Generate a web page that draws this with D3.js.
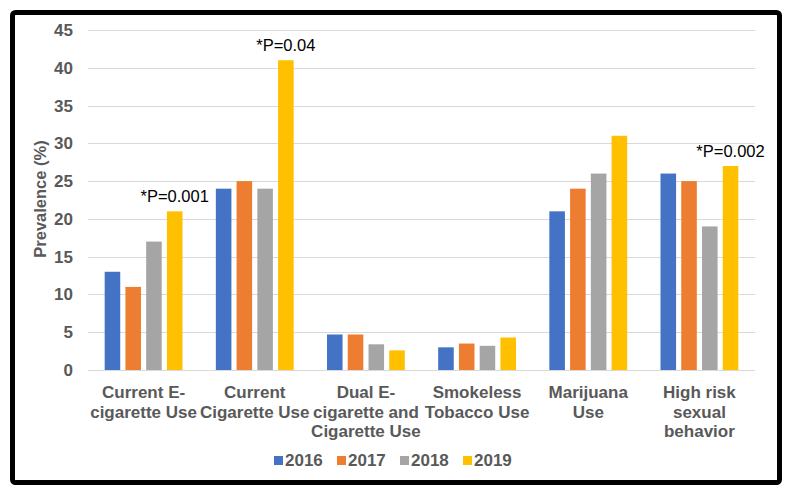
<!DOCTYPE html>
<html>
<head>
<meta charset="utf-8">
<script src="https://cdn.jsdelivr.net/npm/d3@7"></script>
<style>
  body { margin: 0; background: #fff; }
  svg text { font-family: "Liberation Sans", Arial, sans-serif; }
</style>
</head>
<body>
<svg id="chart" width="793" height="496"></svg>
<script>
var categories = [
  "Current E-|cigarette Use",
  "Current|Cigarette Use",
  "Dual E-|cigarette and|Cigarette Use",
  "Smokeless|Tobacco Use",
  "Marijuana|Use",
  "High risk|sexual|behavior"
];
var years = ["2016", "2017", "2018", "2019"];
var v2016 = [13, 24, 4.7, 3.0, 21, 26];
var v2017 = [11, 25, 4.7, 3.5, 24, 25];
var v2018 = [17, 24, 3.4, 3.2, 26, 19];
var v2019 = [21, 41, 2.6, 4.3, 31, 27];
var yTicks = [0, 5, 10, 15, 20, 25, 30, 35, 40, 45];
var notes = [
  { cat: 0, text: "*P=0.001" },
  { cat: 1, text: "*P=0.04" },
  { cat: 5, text: "*P=0.002" }
];
var colors = ["#4472C4", "#ED7D31", "#A5A5A5", "#FFC000"];

var series = [v2016, v2017, v2018, v2019];
var rows = categories.map(function(c, i) {
  return { cat: c, values: years.map(function(y, j) { return { year: y, value: series[j][i] }; }) };
});

var svg = d3.select("#chart");
var gray = "#595959";

// frame
svg.append("rect")
  .attr("x", 12.5).attr("y", 12.5)
  .attr("width", 767).attr("height", 470)
  .attr("rx", 3)
  .attr("fill", "none")
  .attr("stroke", "#000")
  .attr("stroke-width", 5);

var plotLeft = 88, plotRight = 755, plotTop = 30, plotBottom = 370;

var y = d3.scaleLinear().domain([0, 45]).range([plotBottom, plotTop]);
var x0 = d3.scaleBand().domain(categories).range([plotLeft, plotRight])
  .paddingInner(0.3).paddingOuter(0.15);
var x1 = d3.scaleBand().domain(years).range([0, x0.bandwidth()])
  .paddingInner(0.25);
var color = d3.scaleOrdinal().domain(years).range(colors);

// gridlines
svg.append("g")
  .selectAll("line")
  .data(yTicks)
  .enter()
  .append("line")
  .attr("x1", plotLeft).attr("x2", plotRight)
  .attr("y1", function(d) { return Math.round(y(d)) + 0.5; })
  .attr("y2", function(d) { return Math.round(y(d)) + 0.5; })
  .attr("stroke", "#d9d9d9")
  .attr("stroke-width", 1);

// y axis labels
var yAxis = svg.append("g")
  .attr("transform", "translate(" + (plotLeft - 15) + ",0)")
  .call(d3.axisLeft(y).tickValues(yTicks).tickSize(0).tickPadding(0));
yAxis.select(".domain").remove();
yAxis.selectAll("text")
  .attr("fill", gray)
  .style("font-size", "17px")
  .style("font-weight", "bold")
  .style("font-family", "'Liberation Sans', Arial, sans-serif");

svg.append("text")
  .attr("transform", "translate(46,199) rotate(-90)")
  .attr("text-anchor", "middle")
  .attr("fill", gray)
  .style("font-size", "16.5px")
  .style("font-weight", "bold")
  .text("Prevalence (%)");

// bars
var groups = svg.append("g")
  .selectAll("g")
  .data(rows)
  .enter()
  .append("g")
  .attr("transform", function(d) { return "translate(" + x0(d.cat) + ",0)"; });

groups.selectAll("rect")
  .data(function(d) { return d.values; })
  .enter()
  .append("rect")
  .attr("x", function(d) { return x1(d.year); })
  .attr("y", function(d) { return y(d.value); })
  .attr("width", x1.bandwidth())
  .attr("height", function(d) { return y(0) - y(d.value); })
  .attr("fill", function(d) { return color(d.year); });

// category labels
var catLabels = svg.append("g")
  .selectAll("text")
  .data(categories)
  .enter()
  .append("text")
  .attr("text-anchor", "middle")
  .attr("fill", gray)
  .style("font-size", "17px")
  .style("font-weight", "bold")
  .attr("x", function(d) { return x0(d) + x0.bandwidth() / 2; })
  .attr("y", 398);
catLabels.selectAll("tspan")
  .data(function(d) { return d.split("|"); })
  .enter()
  .append("tspan")
  .attr("x", function() { return d3.select(this.parentNode).attr("x"); })
  .attr("dy", function(d, i) { return i === 0 ? 0 : 19.5; })
  .text(function(d) { return d; });

// p-value notes over the 2019 bar
svg.append("g")
  .selectAll("text")
  .data(notes)
  .enter()
  .append("text")
  .attr("text-anchor", "middle")
  .attr("fill", "#000")
  .style("font-size", "16.5px")
  .attr("x", function(d) { return x0(categories[d.cat]) + x1("2019") + x1.bandwidth() / 2; })
  .attr("y", function(d) { return y(v2019[d.cat]) - 9; })
  .text(function(d) { return d.text; });

// legend
var legend = svg.append("g")
  .selectAll("g")
  .data(years)
  .enter()
  .append("g")
  .attr("transform", function(d, i) { return "translate(" + (274 + i * 63) + ",456)"; });
legend.append("rect")
  .attr("width", 9).attr("height", 9)
  .attr("fill", function(d) { return color(d); });
legend.append("text")
  .attr("x", 11).attr("y", 10)
  .attr("fill", gray)
  .style("font-size", "17px")
  .style("font-weight", "bold")
  .text(function(d) { return d; });
</script>
</body>
</html>
